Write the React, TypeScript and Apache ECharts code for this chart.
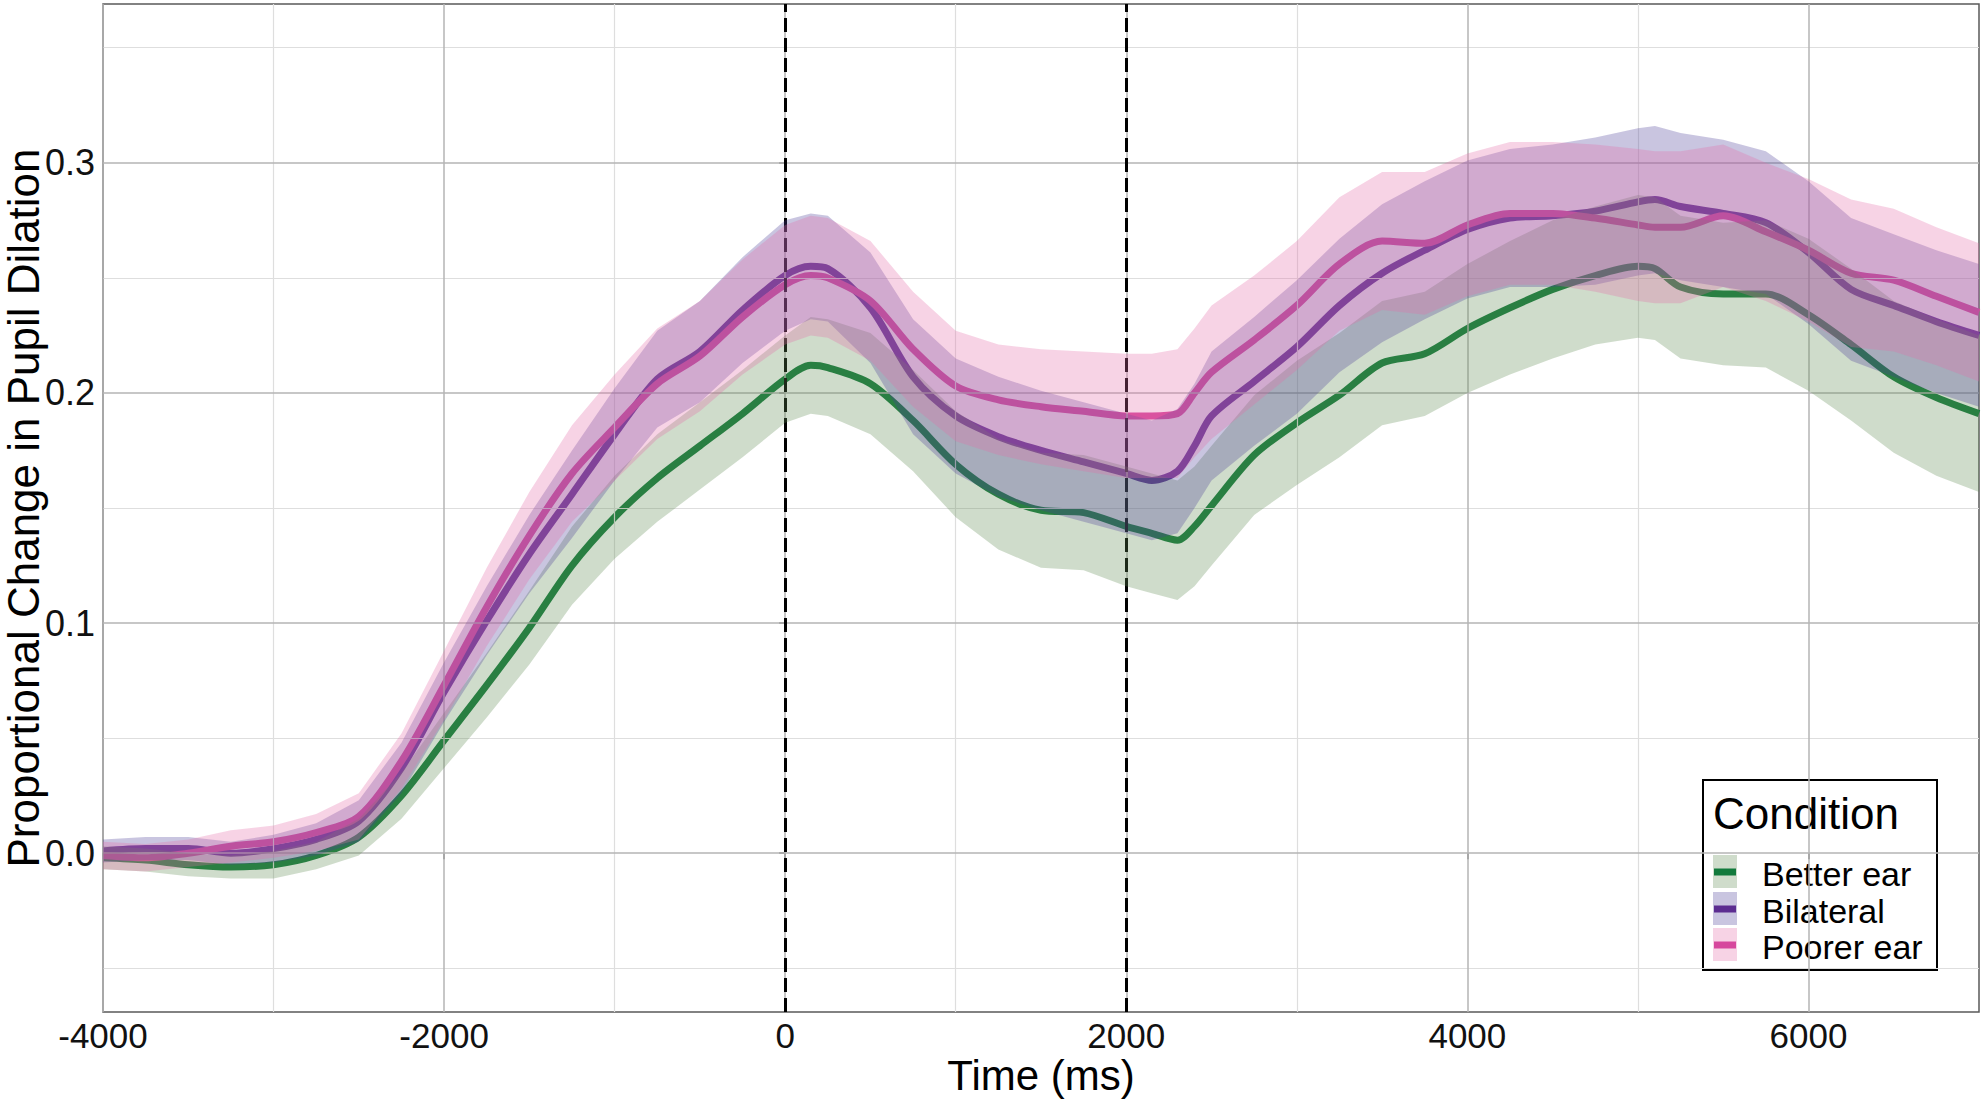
import React, { useEffect, useRef } from "react";
import * as echarts from "echarts";

// ---- data ----
const times = [
  -4000, -3750, -3500, -3250, -3000, -2750, -2500, -2250, -2000, -1750, -1500, -1250,
  -1000, -750, -500, -250, 0, 150, 250, 500, 750, 1000, 1250, 1500, 1750, 2000, 2150,
  2300, 2400, 2500, 2750, 3000, 3250, 3500, 3750, 4000, 4250, 4500, 4750, 5000, 5100,
  5250, 5500, 5750, 6000, 6250, 6500, 6750, 7000,
];

const betterEar = [
  -0.002, -0.003, -0.005, -0.006, -0.005, -0.001, 0.007, 0.025, 0.049, 0.073, 0.098, 0.125,
  0.146, 0.163, 0.177, 0.191, 0.206, 0.212, 0.211, 0.204, 0.188, 0.169, 0.156, 0.149, 0.148, 0.142, 0.139,
  0.136, 0.142, 0.151, 0.173, 0.187, 0.199, 0.213, 0.217, 0.228, 0.237, 0.245, 0.251, 0.255, 0.254,
  0.246, 0.243, 0.243, 0.234, 0.221, 0.207, 0.198, 0.191,
];
const bilateral = [
  0.001, 0.002, 0.002, 0.0, 0.002, 0.006, 0.014, 0.037, 0.07, 0.101, 0.13, 0.156,
  0.182, 0.206, 0.218, 0.236, 0.251, 0.255, 0.254, 0.237, 0.207, 0.19, 0.181, 0.175, 0.17, 0.165, 0.162,
  0.166, 0.177, 0.19, 0.205, 0.22, 0.238, 0.252, 0.262, 0.271, 0.276, 0.277, 0.279, 0.283, 0.284,
  0.281, 0.278, 0.274, 0.261, 0.245, 0.238, 0.231, 0.225,
];
const poorerEar = [
  -0.001, -0.002, 0.0, 0.003, 0.005, 0.009, 0.016, 0.04, 0.073, 0.107, 0.138, 0.165,
  0.185, 0.204, 0.216, 0.233, 0.247, 0.251, 0.25, 0.24, 0.219, 0.203, 0.197, 0.194, 0.192, 0.19, 0.19,
  0.191, 0.2, 0.209, 0.223, 0.238, 0.256, 0.266, 0.265, 0.273, 0.278, 0.278, 0.276, 0.273, 0.272,
  0.272, 0.277, 0.27, 0.262, 0.252, 0.249, 0.242, 0.235,
];

// half-widths of the shaded confidence ribbons
const betterEarCI = [
  0.005, 0.005, 0.005, 0.005, 0.006, 0.006, 0.008, 0.01, 0.012, 0.014, 0.016, 0.017,
  0.018, 0.019, 0.019, 0.019, 0.019, 0.021, 0.021, 0.022, 0.022, 0.023, 0.024, 0.025, 0.025, 0.026, 0.026,
  0.026, 0.026, 0.026, 0.026, 0.027, 0.027, 0.027, 0.027, 0.028, 0.029, 0.03, 0.03, 0.031, 0.031,
  0.031, 0.031, 0.032, 0.033, 0.033, 0.033, 0.034, 0.034,
];
const bilateralCI = [
  0.005, 0.005, 0.005, 0.005, 0.006, 0.007, 0.009, 0.011, 0.013, 0.015, 0.017, 0.019,
  0.02, 0.021, 0.022, 0.023, 0.024, 0.023, 0.023, 0.024, 0.025, 0.025, 0.026, 0.026, 0.026, 0.026, 0.026,
  0.027, 0.027, 0.028, 0.028, 0.029, 0.029, 0.03, 0.03, 0.03, 0.03, 0.031, 0.032, 0.032, 0.032,
  0.032, 0.032, 0.031, 0.031, 0.031, 0.031, 0.031, 0.031,
];
const poorerEarCI = [
  0.006, 0.006, 0.006, 0.007, 0.007, 0.008, 0.01, 0.012, 0.015, 0.017, 0.019, 0.021,
  0.023, 0.024, 0.024, 0.025, 0.026, 0.026, 0.026, 0.026, 0.025, 0.024, 0.024, 0.025, 0.026, 0.027, 0.027,
  0.028, 0.028, 0.029, 0.028, 0.028, 0.029, 0.03, 0.031, 0.031, 0.031, 0.031, 0.032, 0.033, 0.033,
  0.033, 0.031, 0.03, 0.031, 0.032, 0.031, 0.03, 0.03,
];

const conditions = ["Better ear", "Bilateral", "Poorer ear"];
const xTicks = [-4000, -2000, 0, 2000, 4000, 6000];
const xMinor = [-3000, -1000, 1000, 3000, 5000];
const yTicks = [0, 0.1, 0.2, 0.3];
const yMinor = [-0.05, 0.05, 0.15, 0.25, 0.35];
const eventMarkers = [0, 2000];

// ---- styles ----
const FONT = "'Liberation Sans', Arial, Helvetica, sans-serif";
const lineColors = ["#127a3c", "#5c2d91", "#d6489d"];
const ribbonFills = ["rgba(95,138,82,0.3)", "rgba(75,62,152,0.3)", "rgba(228,108,168,0.3)"];
const legendKeyFills = ["#cfdccb", "#c9c5e0", "#f7d3e5"];

const means = [betterEar, bilateral, poorerEar];
const cis = [betterEarCI, bilateralCI, poorerEarCI];

function ribbonSeries(idx: number) {
  const mean = means[idx];
  const ci = cis[idx];
  return {
    type: "custom",
    name: conditions[idx] + " CI",
    z: 5,
    silent: true,
    clip: true,
    data: times.map((t, i) => [t, mean[i] - ci[i], mean[i] + ci[i]]),
    encode: { x: 0, y: [1, 2] },
    renderItem: (params: any, api: any) => {
      if (params.dataIndex !== 0) return null;
      const upper = times.map((t, i) => api.coord([t, mean[i] + ci[i]]));
      const lower = times.map((t, i) => api.coord([t, mean[i] - ci[i]])).reverse();
      return {
        type: "polygon",
        shape: { points: upper.concat(lower) },
        style: { fill: ribbonFills[idx], stroke: "none" },
      };
    },
  };
}

function lineSeries(idx: number) {
  return {
    type: "line",
    name: conditions[idx],
    z: 3,
    silent: true,
    showSymbol: false,
    symbol: "none",
    smooth: 0.3,
    data: times.map((t, i) => [t, means[idx][i]]),
    lineStyle: { color: lineColors[idx], width: 7 },
    itemStyle: { color: lineColors[idx] },
  };
}

export default function App() {
  const ref = useRef<HTMLDivElement>(null);

  useEffect(() => {
    if (!ref.current) return;
    const chart = echarts.init(ref.current, undefined, { renderer: "svg" });

    const majorStyle = { color: "#b4b4b4", width: 1.5, type: "solid" };
    const minorStyle = { color: "#dedede", width: 1.2, type: "solid" };

    const gridLineData: any[] = [
      ...xMinor.map((v) => ({ xAxis: v, lineStyle: minorStyle })),
      ...yMinor.map((v) => ({ yAxis: v, lineStyle: minorStyle })),
      ...xTicks.map((v) => ({ xAxis: v, lineStyle: majorStyle })),
      ...yTicks.map((v) => ({ yAxis: v, lineStyle: majorStyle })),
    ];

    // legend (drawn as graphic elements)
    const legendX = 1703;
    const legendY = 780;
    const rowTop = [855, 892, 928];
    const legendChildren: any[] = [
      {
        type: "rect",
        shape: { x: legendX, y: legendY, width: 234, height: 190 },
        style: { fill: "#fff", stroke: "#000", lineWidth: 2 },
      },
      {
        type: "text",
        x: legendX + 10,
        y: 813,
        style: {
          text: "Condition",
          fontSize: 44,
          lineHeight: 44,
          fontFamily: FONT,
          fill: "#000",
          verticalAlign: "middle",
          align: "left",
        },
      },
    ];
    conditions.forEach((c, i) => {
      legendChildren.push({
        type: "rect",
        shape: { x: 1713, y: rowTop[i], width: 24, height: 33 },
        style: { fill: legendKeyFills[i] },
      });
      legendChildren.push({
        type: "line",
        shape: { x1: 1714, y1: rowTop[i] + 17, x2: 1736, y2: rowTop[i] + 17 },
        style: { stroke: lineColors[i], lineWidth: 7 },
      });
      legendChildren.push({
        type: "text",
        x: 1762,
        y: rowTop[i] + 19,
        style: {
          text: c,
          fontSize: 34,
          lineHeight: 32,
          fontFamily: FONT,
          fill: "#000",
          verticalAlign: "middle",
          align: "left",
        },
      });
    });

    chart.setOption({
      animation: false,
      backgroundColor: "#ffffff",
      grid: {
        left: 103,
        right: 4,
        top: 4,
        bottom: 87,
        outerBoundsMode: "none",
        containLabel: false,
        show: true,
        borderColor: "#5a5a5a",
        borderWidth: 1.5,
        backgroundColor: "#ffffff",
      },
      xAxis: {
        type: "value",
        min: -4000,
        max: 7000,
        name: "Time (ms)",
        nameLocation: "middle",
        nameGap: 45,
        nameMoveOverlap: false,
        nameTextStyle: { fontSize: 42, lineHeight: 36, fontFamily: FONT, color: "#000" },
        axisLine: { show: false },
        splitLine: { show: false },
        axisTick: {
          show: true,
          customValues: xTicks,
          length: 6,
          lineStyle: { color: "#555", width: 1.5 },
        },
        axisLabel: {
          customValues: xTicks,
          formatter: (v: number) => String(v),
          fontSize: 35,
          lineHeight: 30,
          fontFamily: FONT,
          color: "#111",
          margin: 8,
        },
      },
      yAxis: {
        type: "value",
        min: -0.069,
        max: 0.369,
        name: "Proportional Change in Pupil Dilation",
        nameLocation: "middle",
        nameGap: 60,
        nameMoveOverlap: false,
        nameTextStyle: { fontSize: 44, lineHeight: 40, fontFamily: FONT, color: "#000" },
        axisLine: { show: false },
        splitLine: { show: false },
        axisTick: {
          show: true,
          customValues: yTicks,
          length: 6,
          lineStyle: { color: "#555", width: 1.5 },
        },
        axisLabel: {
          customValues: yTicks,
          formatter: (v: number) => v.toFixed(1),
          fontSize: 36,
          fontFamily: FONT,
          color: "#111",
          margin: 8,
        },
      },
      series: [
        {
          type: "line",
          name: "grid",
          z: 1,
          silent: true,
          data: [],
          markLine: {
            silent: true,
            symbol: "none",
            animation: false,
            label: { show: false },
            emphasis: { disabled: true },
            data: gridLineData,
          },
        },
        lineSeries(0),
        lineSeries(1),
        lineSeries(2),
        ribbonSeries(0),
        ribbonSeries(1),
        ribbonSeries(2),
        {
          type: "line",
          name: "events",
          z: 10,
          silent: true,
          data: [],
          markLine: {
            silent: true,
            symbol: "none",
            animation: false,
            label: { show: false },
            emphasis: { disabled: true },
            lineStyle: { color: "#000", width: 3, type: [14, 6] },
            data: eventMarkers.map((v) => ({ xAxis: v })),
          },
        },
      ],
      graphic: [{ type: "group", z: 100, children: legendChildren }],
    });

    return () => {
      chart.dispose();
    };
  }, []);

  return (
    <div
      ref={ref}
      style={{
        position: "fixed",
        left: 0,
        top: 0,
        width: "1983px",
        height: "1099px",
        background: "#fff",
      }}
    />
  );
}
